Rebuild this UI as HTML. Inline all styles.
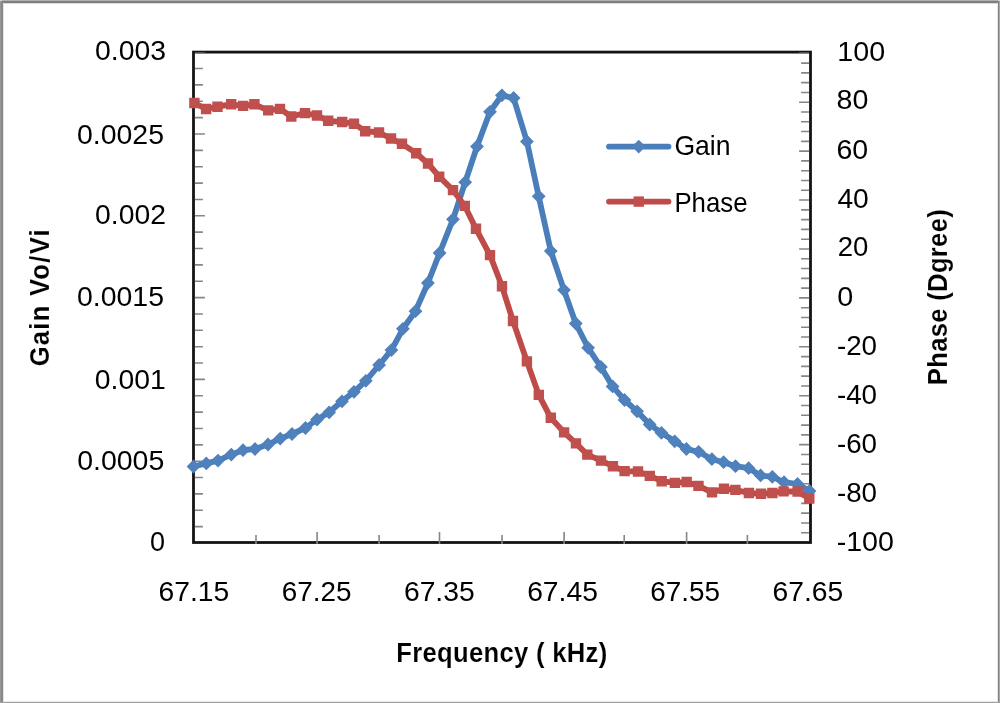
<!DOCTYPE html>
<html><head><meta charset="utf-8"><title>Gain and Phase vs Frequency</title>
<style>html,body{margin:0;padding:0;background:#fff;width:1000px;height:703px;overflow:hidden}svg{display:block;will-change:transform}text{font-family:"Liberation Sans",sans-serif}</style>
</head><body>
<svg width="1000" height="703" viewBox="0 0 1000 703"><rect width="1000" height="703" fill="#fff"/><rect x="193.5" y="52.1" width="617" height="490.4" fill="none" stroke="#141414" stroke-width="2.8"/><path d="M194.9 526.64h8M194.9 510.28h8M194.9 493.92h8M194.9 477.56h8M194.9 461.2h10M194.9 444.84h8M194.9 428.48h8M194.9 412.12h8M194.9 395.76h8M194.9 379.4h10M194.9 363.04h8M194.9 346.68h8M194.9 330.32h8M194.9 313.96h8M194.9 297.6h10M194.9 281.24h8M194.9 264.88h8M194.9 248.52h8M194.9 232.16h8M194.9 215.8h10M194.9 199.44h8M194.9 183.08h8M194.9 166.72h8M194.9 150.36h8M194.9 134h10M194.9 117.64h8M194.9 101.28h8M194.9 84.92h8M194.9 68.56h8M194.9 53.2h10M809.1 532.72h-8M809.1 522.93h-8M809.1 513.15h-8M809.1 503.36h-8M809.1 493.58h-10M809.1 483.8h-8M809.1 474.01h-8M809.1 464.23h-8M809.1 454.44h-8M809.1 444.66h-10M809.1 434.88h-8M809.1 425.09h-8M809.1 415.31h-8M809.1 405.52h-8M809.1 395.74h-10M809.1 385.96h-8M809.1 376.17h-8M809.1 366.39h-8M809.1 356.6h-8M809.1 346.82h-10M809.1 337.04h-8M809.1 327.25h-8M809.1 317.47h-8M809.1 307.68h-8M809.1 297.9h-10M809.1 288.12h-8M809.1 278.33h-8M809.1 268.55h-8M809.1 258.76h-8M809.1 248.98h-10M809.1 239.2h-8M809.1 229.41h-8M809.1 219.63h-8M809.1 209.84h-8M809.1 200.06h-10M809.1 190.28h-8M809.1 180.49h-8M809.1 170.71h-8M809.1 160.92h-8M809.1 151.14h-10M809.1 141.36h-8M809.1 131.57h-8M809.1 121.79h-8M809.1 112h-8M809.1 102.22h-10M809.1 92.44h-8M809.1 82.65h-8M809.1 72.87h-8M809.1 63.08h-8M809.1 53.2h-10M256 543.9v-8.8M317.1 543.9v-11.8M379.1 543.9v-8.8M439.5 543.9v-11.8M502 543.9v-8.8M564.1 543.9v-11.8M624.2 543.9v-8.8M686.6 543.9v-11.8M747.4 543.9v-8.8" stroke="#868686" stroke-width="1.6" fill="none"/><polyline points="193.5,466.5 206.3,463.4 218,460.6 231.3,454.6 243,450.2 255,449 268,444.5 280.2,438.6 292,434 305.5,428 317,419.5 329.2,412.3 342,401.3 354,391.8 365.8,380.8 379.1,365 391.4,350.1 402.9,328.8 415.5,311.2 427.9,283 439.6,253 453,219.3 465.2,182.2 477,146.5 490,111.8 501.9,95.3 513.6,98 526.9,141.5 538.7,196.3 550.8,251.1 564,290.1 575.8,323.5 588.1,347.8 600.9,367 612.6,386.4 624.5,400 637.1,411.3 649.7,424.5 661.4,432.8 674.7,441.3 686.4,449 698.6,451.8 711.9,459.2 723.6,462.2 735.5,466.2 748.6,468.2 760.6,475.4 772.3,476.8 784,482.2 797.5,484 809.5,491" fill="none" stroke="#4a7ebb" stroke-width="5.8" stroke-linejoin="round" stroke-linecap="round"/><path d="M193.5 459.6l6.9 6.9l-6.9 6.9l-6.9 -6.9zM206.3 456.5l6.9 6.9l-6.9 6.9l-6.9 -6.9zM218 453.7l6.9 6.9l-6.9 6.9l-6.9 -6.9zM231.3 447.7l6.9 6.9l-6.9 6.9l-6.9 -6.9zM243 443.3l6.9 6.9l-6.9 6.9l-6.9 -6.9zM255 442.1l6.9 6.9l-6.9 6.9l-6.9 -6.9zM268 437.6l6.9 6.9l-6.9 6.9l-6.9 -6.9zM280.2 431.7l6.9 6.9l-6.9 6.9l-6.9 -6.9zM292 427.1l6.9 6.9l-6.9 6.9l-6.9 -6.9zM305.5 421.1l6.9 6.9l-6.9 6.9l-6.9 -6.9zM317 412.6l6.9 6.9l-6.9 6.9l-6.9 -6.9zM329.2 405.4l6.9 6.9l-6.9 6.9l-6.9 -6.9zM342 394.4l6.9 6.9l-6.9 6.9l-6.9 -6.9zM354 384.9l6.9 6.9l-6.9 6.9l-6.9 -6.9zM365.8 373.9l6.9 6.9l-6.9 6.9l-6.9 -6.9zM379.1 358.1l6.9 6.9l-6.9 6.9l-6.9 -6.9zM391.4 343.2l6.9 6.9l-6.9 6.9l-6.9 -6.9zM402.9 321.9l6.9 6.9l-6.9 6.9l-6.9 -6.9zM415.5 304.3l6.9 6.9l-6.9 6.9l-6.9 -6.9zM427.9 276.1l6.9 6.9l-6.9 6.9l-6.9 -6.9zM439.6 246.1l6.9 6.9l-6.9 6.9l-6.9 -6.9zM453 212.4l6.9 6.9l-6.9 6.9l-6.9 -6.9zM465.2 175.3l6.9 6.9l-6.9 6.9l-6.9 -6.9zM477 139.6l6.9 6.9l-6.9 6.9l-6.9 -6.9zM490 104.9l6.9 6.9l-6.9 6.9l-6.9 -6.9zM501.9 88.4l6.9 6.9l-6.9 6.9l-6.9 -6.9zM513.6 91.1l6.9 6.9l-6.9 6.9l-6.9 -6.9zM526.9 134.6l6.9 6.9l-6.9 6.9l-6.9 -6.9zM538.7 189.4l6.9 6.9l-6.9 6.9l-6.9 -6.9zM550.8 244.2l6.9 6.9l-6.9 6.9l-6.9 -6.9zM564 283.2l6.9 6.9l-6.9 6.9l-6.9 -6.9zM575.8 316.6l6.9 6.9l-6.9 6.9l-6.9 -6.9zM588.1 340.9l6.9 6.9l-6.9 6.9l-6.9 -6.9zM600.9 360.1l6.9 6.9l-6.9 6.9l-6.9 -6.9zM612.6 379.5l6.9 6.9l-6.9 6.9l-6.9 -6.9zM624.5 393.1l6.9 6.9l-6.9 6.9l-6.9 -6.9zM637.1 404.4l6.9 6.9l-6.9 6.9l-6.9 -6.9zM649.7 417.6l6.9 6.9l-6.9 6.9l-6.9 -6.9zM661.4 425.9l6.9 6.9l-6.9 6.9l-6.9 -6.9zM674.7 434.4l6.9 6.9l-6.9 6.9l-6.9 -6.9zM686.4 442.1l6.9 6.9l-6.9 6.9l-6.9 -6.9zM698.6 444.9l6.9 6.9l-6.9 6.9l-6.9 -6.9zM711.9 452.3l6.9 6.9l-6.9 6.9l-6.9 -6.9zM723.6 455.3l6.9 6.9l-6.9 6.9l-6.9 -6.9zM735.5 459.3l6.9 6.9l-6.9 6.9l-6.9 -6.9zM748.6 461.3l6.9 6.9l-6.9 6.9l-6.9 -6.9zM760.6 468.5l6.9 6.9l-6.9 6.9l-6.9 -6.9zM772.3 469.9l6.9 6.9l-6.9 6.9l-6.9 -6.9zM784 475.3l6.9 6.9l-6.9 6.9l-6.9 -6.9zM797.5 477.1l6.9 6.9l-6.9 6.9l-6.9 -6.9zM809.5 484.1l6.9 6.9l-6.9 6.9l-6.9 -6.9z" fill="#4f81bd"/><polyline points="194.4,103 206.1,109 217.5,106.7 231.2,104.3 243.1,105.9 254.4,104.3 268.2,110.4 280,108.9 291.3,116.5 305,113.1 317,115.5 328.2,120.8 342.2,122 354,123.7 365.2,131.2 379,132.5 391,138.5 402,143.8 416.2,153.2 428,163.5 439.2,176.7 453,190.1 464.8,205.9 476,228.8 490,255.1 502,286.3 513,321 526.9,361.4 538.8,394.9 550.8,417.8 564.1,432.4 576,443.4 587.3,454.6 601,460.6 612.9,466.2 624.6,471.1 638,471.5 649.8,475.9 661.7,481.2 674.9,482.9 686.7,482 698.5,485.9 712,492.4 724,488.8 735.4,489.9 748.9,493 761,493.8 772.4,493 783.6,491.4 797.6,491.5 809.3,498.5" fill="none" stroke="#be4b48" stroke-width="5.8" stroke-linejoin="round" stroke-linecap="round"/><path d="M189.2 97.8h10.4v10.4h-10.4zM200.9 103.8h10.4v10.4h-10.4zM212.3 101.5h10.4v10.4h-10.4zM226 99.1h10.4v10.4h-10.4zM237.9 100.7h10.4v10.4h-10.4zM249.2 99.1h10.4v10.4h-10.4zM263 105.2h10.4v10.4h-10.4zM274.8 103.7h10.4v10.4h-10.4zM286.1 111.3h10.4v10.4h-10.4zM299.8 107.9h10.4v10.4h-10.4zM311.8 110.3h10.4v10.4h-10.4zM323 115.6h10.4v10.4h-10.4zM337 116.8h10.4v10.4h-10.4zM348.8 118.5h10.4v10.4h-10.4zM360 126h10.4v10.4h-10.4zM373.8 127.3h10.4v10.4h-10.4zM385.8 133.3h10.4v10.4h-10.4zM396.8 138.6h10.4v10.4h-10.4zM411 148h10.4v10.4h-10.4zM422.8 158.3h10.4v10.4h-10.4zM434 171.5h10.4v10.4h-10.4zM447.8 184.9h10.4v10.4h-10.4zM459.6 200.7h10.4v10.4h-10.4zM470.8 223.6h10.4v10.4h-10.4zM484.8 249.9h10.4v10.4h-10.4zM496.8 281.1h10.4v10.4h-10.4zM507.8 315.8h10.4v10.4h-10.4zM521.7 356.2h10.4v10.4h-10.4zM533.6 389.7h10.4v10.4h-10.4zM545.6 412.6h10.4v10.4h-10.4zM558.9 427.2h10.4v10.4h-10.4zM570.8 438.2h10.4v10.4h-10.4zM582.1 449.4h10.4v10.4h-10.4zM595.8 455.4h10.4v10.4h-10.4zM607.7 461h10.4v10.4h-10.4zM619.4 465.9h10.4v10.4h-10.4zM632.8 466.3h10.4v10.4h-10.4zM644.6 470.7h10.4v10.4h-10.4zM656.5 476h10.4v10.4h-10.4zM669.7 477.7h10.4v10.4h-10.4zM681.5 476.8h10.4v10.4h-10.4zM693.3 480.7h10.4v10.4h-10.4zM706.8 487.2h10.4v10.4h-10.4zM718.8 483.6h10.4v10.4h-10.4zM730.2 484.7h10.4v10.4h-10.4zM743.7 487.8h10.4v10.4h-10.4zM755.8 488.6h10.4v10.4h-10.4zM767.2 487.8h10.4v10.4h-10.4zM778.4 486.2h10.4v10.4h-10.4zM792.4 486.3h10.4v10.4h-10.4zM804.1 493.3h10.4v10.4h-10.4z" fill="#c0504d"/><path d="M609 146.6H668.5" stroke="#4a7ebb" stroke-width="5.8" stroke-linecap="round"/><path d="M638.75 139.7l6.9 6.9l-6.9 6.9l-6.9 -6.9z" fill="#4f81bd"/><path d="M609 201.6H668.5" stroke="#be4b48" stroke-width="5.8" stroke-linecap="round"/><path d="M633.55 196.4h10.4v10.4h-10.4z" fill="#c0504d"/><g font-family="Liberation Sans, sans-serif" font-size="27.5" fill="#000"><text x="130.5" y="60" text-anchor="middle" textLength="70.99" lengthAdjust="spacingAndGlyphs">0.003</text><text x="120.5" y="143.6" text-anchor="middle" textLength="87.03" lengthAdjust="spacingAndGlyphs">0.0025</text><text x="130.5" y="224.3" text-anchor="middle" textLength="70.94" lengthAdjust="spacingAndGlyphs">0.002</text><text x="120.5" y="305.8" text-anchor="middle" textLength="87.03" lengthAdjust="spacingAndGlyphs">0.0015</text><text x="130.3" y="388.9" text-anchor="middle" textLength="70.9" lengthAdjust="spacingAndGlyphs">0.001</text><text x="120.7" y="469.95" text-anchor="middle" textLength="87.15" lengthAdjust="spacingAndGlyphs">0.0005</text><text x="157.5" y="551.15" text-anchor="middle" textLength="15.02" lengthAdjust="spacingAndGlyphs">0</text><text x="861.2" y="60.8" text-anchor="middle" textLength="47.82" lengthAdjust="spacingAndGlyphs">100</text><text x="852.5" y="109.2" text-anchor="middle" textLength="31.79" lengthAdjust="spacingAndGlyphs">80</text><text x="852.3" y="158.6" text-anchor="middle" textLength="31.74" lengthAdjust="spacingAndGlyphs">60</text><text x="853.1" y="208" text-anchor="middle" textLength="31.37" lengthAdjust="spacingAndGlyphs">40</text><text x="853" y="256.4" text-anchor="middle" textLength="30.63" lengthAdjust="spacingAndGlyphs">20</text><text x="845.3" y="305.8" text-anchor="middle" textLength="15.99" lengthAdjust="spacingAndGlyphs">0</text><text x="857" y="355.2" text-anchor="middle" textLength="40.15" lengthAdjust="spacingAndGlyphs">-20</text><text x="857" y="403.6" text-anchor="middle" textLength="40.15" lengthAdjust="spacingAndGlyphs">-40</text><text x="857" y="453" text-anchor="middle" textLength="40.15" lengthAdjust="spacingAndGlyphs">-60</text><text x="857" y="502.4" text-anchor="middle" textLength="40.15" lengthAdjust="spacingAndGlyphs">-80</text><text x="865.3" y="551" text-anchor="middle" textLength="57.31" lengthAdjust="spacingAndGlyphs">-100</text><text x="193.9" y="601.05" text-anchor="middle" textLength="70.76" lengthAdjust="spacingAndGlyphs">67.15</text><text x="316.6" y="601.05" text-anchor="middle" textLength="69.76" lengthAdjust="spacingAndGlyphs">67.25</text><text x="439.3" y="601.05" text-anchor="middle" textLength="70.75" lengthAdjust="spacingAndGlyphs">67.35</text><text x="562.5" y="601.05" text-anchor="middle" textLength="70.75" lengthAdjust="spacingAndGlyphs">67.45</text><text x="685.2" y="601.05" text-anchor="middle" textLength="69.76" lengthAdjust="spacingAndGlyphs">67.55</text><text x="807.9" y="601.05" text-anchor="middle" textLength="70.75" lengthAdjust="spacingAndGlyphs">67.65</text><text x="702.5" y="155.35" text-anchor="middle" textLength="56.09" lengthAdjust="spacingAndGlyphs">Gain</text><text x="711" y="211.8" text-anchor="middle" textLength="73.13" lengthAdjust="spacingAndGlyphs">Phase</text></g><g font-family="Liberation Sans, sans-serif" font-size="27" font-weight="bold" fill="#000" stroke="#fff" stroke-width="0.12"><text transform="translate(501.7,661.5) scale(0.95,1)" text-anchor="middle" textLength="222.11" lengthAdjust="spacing">Frequency ( kHz)</text><text transform="translate(49.1,297.85) rotate(-90) scale(0.95,1)" text-anchor="middle" textLength="144.21" lengthAdjust="spacing">Gain Vo/Vi</text><text transform="translate(947.3,297.2) rotate(-90) scale(0.95,1)" text-anchor="middle" textLength="185.26" lengthAdjust="spacing">Phase (Dgree)</text></g><rect x="0" y="0" width="1000" height="1" fill="#b0b0b0"/><rect x="0" y="1" width="1000" height="2" fill="#7f7f7f"/><rect x="0" y="3" width="1000" height="1" fill="#dadada"/><rect x="0" y="1" width="1" height="702" fill="#969696"/><rect x="1" y="1" width="2" height="702" fill="#888888"/><rect x="3" y="3" width="1" height="699" fill="#e4e4e4"/><rect x="998" y="1" width="1" height="702" fill="#808080"/><rect x="999" y="1" width="1" height="702" fill="#a8a8a8"/><rect x="997" y="3" width="1" height="699" fill="#e8e8e8"/><rect x="0" y="702" width="1000" height="1" fill="#a0a0a0"/><rect x="3" y="701" width="995" height="1" fill="#e8e8e8"/><rect x="0" y="0" width="2" height="1" fill="#d6d6d6"/><rect x="998" y="0" width="2" height="1" fill="#d6d6d6"/></svg>
</body></html>
